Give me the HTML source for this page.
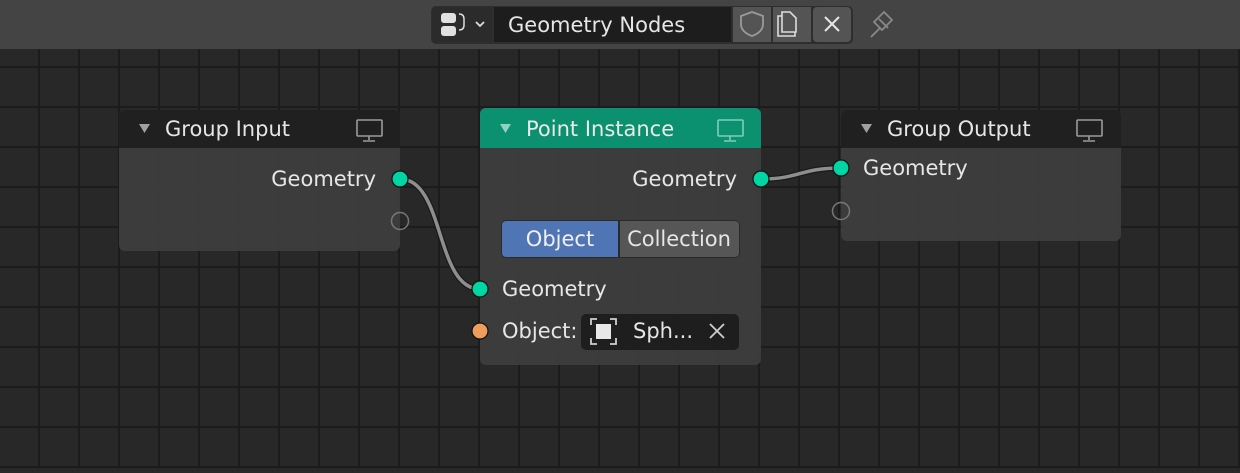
<!DOCTYPE html>
<html><head><meta charset="utf-8"><style>
body{margin:0;width:1240px;height:468px;overflow:hidden;background:#282828;font-family:"Liberation Sans","DejaVu Sans",sans-serif;}
</style></head><body>
<svg width="1240" height="468" xmlns="http://www.w3.org/2000/svg" font-family="DejaVu Sans, Liberation Sans, sans-serif">
<defs>
<pattern id="g" x="0" y="28" width="40" height="40" patternUnits="userSpaceOnUse">
<rect width="40" height="40" fill="#282828"/>
<rect x="38" y="0" width="2" height="40" fill="#1c1c1c"/>
<rect x="0" y="38" width="40" height="2" fill="#1c1c1c"/>
</pattern>
</defs>
<rect width="1240" height="468" fill="url(#g)"/>
<!-- top bar -->
<rect x="0" y="0" width="1240" height="49" fill="#444444"/>
<rect x="431" y="6" width="422" height="38" rx="5" fill="#2e2e2e"/>
<rect x="432" y="7" width="60" height="35" rx="4" fill="#2b2b2b"/>
<rect x="441" y="13" width="15" height="10" rx="3" fill="#e0e0e0"/>
<rect x="441" y="26" width="15" height="10" rx="3" fill="#e0e0e0"/>
<path d="M459 14 q5 0 5 5 v6 q0 5 -5 5" stroke="#ddd" stroke-width="1.5" fill="none"/>
<path d="M476 22 l4 4 4 -4" stroke="#ddd" stroke-width="1.8" fill="none"/>
<rect x="494" y="7" width="237" height="35" fill="#1d1d1d"/>
<text x="508" y="32" font-size="21" fill="#e6e6e6">Geometry Nodes</text>
<rect x="733" y="7" width="38" height="35" fill="#545454"/>
<rect x="773" y="7" width="38" height="35" fill="#545454"/>
<rect x="813" y="7" width="38" height="35" rx="4" fill="#545454"/>
<path d="M752 12 l11 4 v8 q0 8 -11 12 q-11 -4 -11 -12 v-8 z" stroke="#9a9a9a" stroke-width="1.8" fill="none"/>
<path d="M782 16 h-4 v20 h17 v-4 M782 12 h8 l6 6 v14 h-14 z" stroke="#dcdcdc" stroke-width="1.6" fill="none"/>
<path d="M825 17 l14 14 M839 17 l-14 14" stroke="#e6e6e6" stroke-width="2"/>
<path d="M871 37 l9 -9 M874 22 l10 -10 l8 8 l-10 10 z M879 19 l9 9" stroke="#8a8a8a" stroke-width="1.8" fill="none"/>
<!-- wires -->
<path d="M400 179 C 445 179, 435 289, 480 289" stroke="#1a1a1a" stroke-width="6" fill="none"/>
<path d="M400 179 C 445 179, 435 289, 480 289" stroke="#8e8e8e" stroke-width="3.5" fill="none"/>
<path d="M761 179 C 800 179, 800 168, 841 168" stroke="#1a1a1a" stroke-width="6" fill="none"/>
<path d="M761 179 C 800 179, 800 168, 841 168" stroke="#8e8e8e" stroke-width="3.5" fill="none"/>
<!-- Group Input -->
<rect x="119" y="110" width="281" height="141" rx="6" fill="#3d3d3d" fill-opacity="0.95"/>
<path d="M119 148 v-32 a6 6 0 0 1 6 -6 h269 a6 6 0 0 1 6 6 v32 z" fill="#1f1f1f" fill-opacity="0.95"/>
<path d="M139 124 h11 l-5.5 9 z" fill="#a0a0a0"/>
<text x="165" y="136" font-size="21" fill="#e6e6e6">Group Input</text>
<rect x="357" y="120" width="25" height="16" rx="1" stroke="#9a9a9a" stroke-width="1.6" fill="none"/>
<path d="M369 136 v4 M363 141 h12" stroke="#9a9a9a" stroke-width="1.6"/>
<text x="376" y="186" font-size="21" fill="#e6e6e6" text-anchor="end">Geometry</text>
<circle cx="400" cy="179" r="8" fill="#00d6a3" stroke="#111" stroke-width="1.2"/>
<circle cx="400" cy="221" r="8.5" fill="none" stroke="#777" stroke-width="1.5"/>
<!-- Point Instance -->
<rect x="480" y="108" width="281" height="257" rx="6" fill="#3d3d3d" fill-opacity="0.95"/>
<path d="M480 148 v-34 a6 6 0 0 1 6 -6 h269 a6 6 0 0 1 6 6 v34 z" fill="#0b9170"/>
<path d="M500 124 h11 l-5.5 9 z" fill="#8fd4c0"/>
<text x="526" y="136" font-size="21" fill="#eaeaea">Point Instance</text>
<rect x="718" y="120" width="25" height="16" rx="1" stroke="#7fcdb6" stroke-width="1.6" fill="none"/>
<path d="M730 136 v4 M724 141 h12" stroke="#7fcdb6" stroke-width="1.6"/>
<text x="737" y="186" font-size="21" fill="#e6e6e6" text-anchor="end">Geometry</text>
<circle cx="761" cy="179" r="8" fill="#00d6a3" stroke="#111" stroke-width="1.2"/>
<rect x="501" y="220" width="239" height="38" rx="5" fill="#2a2a2a"/>
<path d="M506 221 h112 v36 h-112 a4 4 0 0 1 -4 -4 v-28 a4 4 0 0 1 4 -4 z" fill="#5075b4"/>
<path d="M620 221 h115 a4 4 0 0 1 4 4 v28 a4 4 0 0 1 -4 4 h-115 z" fill="#565656"/>
<text x="560" y="246" font-size="21" fill="#f0f0f0" text-anchor="middle">Object</text>
<text x="679" y="246" font-size="21" fill="#e6e6e6" text-anchor="middle">Collection</text>
<circle cx="480" cy="289" r="8" fill="#00d6a3" stroke="#111" stroke-width="1.2"/>
<text x="502" y="296" font-size="21" fill="#e6e6e6">Geometry</text>
<circle cx="480" cy="331" r="8" fill="#ed9e5c" stroke="#111" stroke-width="1.2"/>
<text x="502" y="338" font-size="21" fill="#e6e6e6">Object:</text>
<rect x="581" y="314" width="158" height="36" rx="5" fill="#1e1e1e"/>
<path d="M591 325 v-6 h6 M610 319 h6 v6 M616 338 v6 h-6 M597 344 h-6 v-6" stroke="#cfcfcf" stroke-width="1.8" fill="none"/>
<rect x="596" y="324" width="15" height="15" fill="#e8e8e8"/>
<text x="633" y="338" font-size="21" fill="#e6e6e6">Sph...</text>
<path d="M710 324 l14 14 M724 324 l-14 14" stroke="#cfcfcf" stroke-width="1.8"/>
<!-- Group Output -->
<rect x="841" y="110" width="280" height="131" rx="6" fill="#3d3d3d" fill-opacity="0.95"/>
<path d="M841 148 v-32 a6 6 0 0 1 6 -6 h268 a6 6 0 0 1 6 6 v32 z" fill="#1f1f1f" fill-opacity="0.95"/>
<path d="M861 124 h11 l-5.5 9 z" fill="#a0a0a0"/>
<text x="887" y="136" font-size="21" fill="#e6e6e6">Group Output</text>
<rect x="1077" y="120" width="25" height="16" rx="1" stroke="#9a9a9a" stroke-width="1.6" fill="none"/>
<path d="M1089 136 v4 M1083 141 h12" stroke="#9a9a9a" stroke-width="1.6"/>
<circle cx="841" cy="168" r="8" fill="#00d6a3" stroke="#111" stroke-width="1.2"/>
<text x="863" y="175" font-size="21" fill="#e6e6e6">Geometry</text>
<circle cx="841" cy="211" r="8.5" fill="none" stroke="#777" stroke-width="1.5"/>
</svg>
</body></html>
